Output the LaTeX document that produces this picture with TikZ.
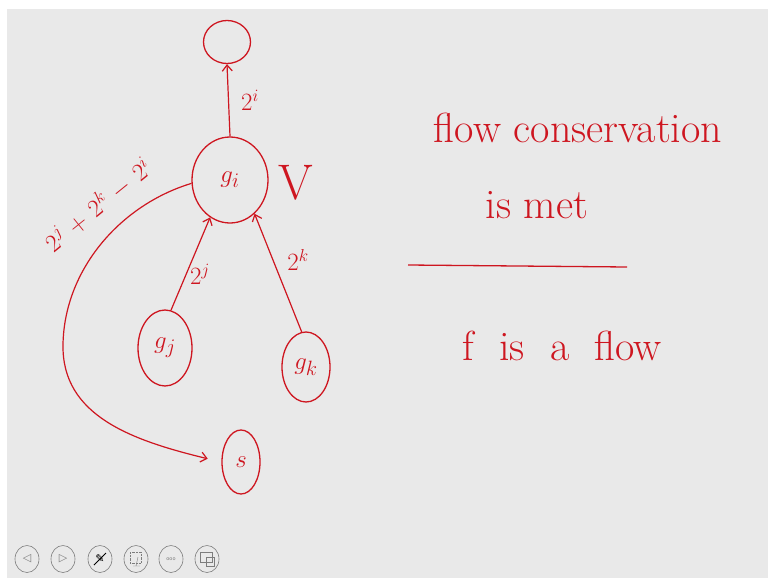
\documentclass[tikz,border=0pt]{standalone}
\usepackage{fontspec}
\newfontfamily\iconfont{DejaVu Sans}
\usepackage{tikz}
\usetikzlibrary{shapes.geometric,arrows.meta,positioning,calc}
\definecolor{inkred}{RGB}{206,22,32}
\definecolor{slidegray}{RGB}{233,233,233}
\definecolor{btngray}{RGB}{125,125,125}

\begin{document}
\begin{tikzpicture}[x=1pt,y=-1pt,
    inknode/.style={ellipse, draw=inkred, line width=1.3pt, inner sep=0pt, text=inkred,
      font=\fontsize{30}{34}\selectfont},
    flowarrow/.style={draw=inkred, line width=1.2pt, -{Straight Barb[length=6pt,width=10pt]}},
    inktext/.style={text=inkred, inner sep=0pt},
    weightlbl/.style={inktext, font=\fontsize{26}{30}\selectfont},
    handtext/.style={inktext, font=\fontsize{42}{48}\selectfont},
    toolbtn/.style={ellipse, draw=btngray, line width=0.6pt, minimum width=24pt,
      minimum height=27pt, inner sep=0pt, text=btngray, font=\iconfont\fontsize{11}{12}\selectfont}]
  % Page and slide
  \useasboundingbox (0,0) rectangle (768,578);
  \fill[white] (0,0) rectangle (768,578);
  \fill[slidegray] (7,9) rectangle (768,578);
  % Gadget nodes
  \node[inknode, minimum width=47pt, minimum height=43pt] (top) at (227,42) {};
  \node[inknode, minimum width=76pt, minimum height=86pt] (gi) at (230,180) {$g_i$};
  \node[inknode, minimum width=54pt, minimum height=76pt] (gj) at (165,348) {$g_j$};
  \node[inknode, minimum width=48pt, minimum height=70pt] (gk) at (306,367) {$g_k$};
  \node[inknode, minimum width=38pt, minimum height=64pt] (s) at (241,462) {$s$};
  % Flow edges
  \coordinate (bend) at (63,345);
  \draw[flowarrow] (gi.north) -- (top.south);
  \draw[flowarrow] (gj.81) -- (gi.242);
  \draw[flowarrow] (gk.97) -- (gi.306);
  \draw[flowarrow, shorten >=14pt] (gi.185) .. controls (120,205) and (64,270) .. (bend)
    .. controls (62,415) and (130,440) .. (s.west);
  % Edge weights
  \node[weightlbl] (wi) at (250,100) {$2^i$};
  \node[weightlbl] (wj) at (200,274) {$2^j$};
  \node[weightlbl] (wk) at (298,260) {$2^k$};
  \node[weightlbl, rotate=39, font=\fontsize{24}{28}\selectfont] (wsum) at (98,205)
    {$2^{j}\mkern6mu{+}\mkern6mu2^{k}\mkern6mu{-}\mkern6mu2^{i}$};
  \node[inktext, font=\fontsize{50}{52}\selectfont] (vlbl) at (296,183) {V};
  % Right hand notes
  \node[handtext] (cons) at (578,128) {flow conservation};
  \node[handtext] (met) at (537,205) {is met};
  \coordinate (rulel) at (408,265);
  \coordinate (ruler) at (627,267);
  \draw[inkred, line width=1.3pt] (rulel) -- (ruler);
  \node[handtext] (isflow) at (562,346) {f\ \ is\ \ a\ \ flow};
  % Toolbar
  \node[toolbtn] (prev) at (27,559) {◁};
  \node[toolbtn] (next) at (63,559) {▷};
  \node[toolbtn, text=black] (pen) at (100,559) {✎};
  \node[toolbtn] (shot) at (136,559) {};
  \node[toolbtn, font=\iconfont\fontsize{5}{6}\selectfont] (more) at (171,559) {ooo};
  \node[toolbtn] (scrn) at (207,559) {};
  \draw[black, line width=1pt] ($(pen)+(-6,6)$) -- ($(pen)+(6,-6)$);
  \draw[btngray, densely dotted] ($(shot)+(-6,-7)$) rectangle ($(shot)+(5,4)$);
  \draw[btngray] ($(shot)+(-3,7)$) -- ($(shot)+(4,7)$) ($(shot)+(0,7)$) -- ($(shot)+(2,-2)$);
  \draw[btngray] ($(scrn)+(-7,-7)$) rectangle ($(scrn)+(5,3)$);
  \draw[btngray] ($(scrn)+(-1,-2)$) rectangle ($(scrn)+(7,7)$);
\end{tikzpicture}
\end{document}
